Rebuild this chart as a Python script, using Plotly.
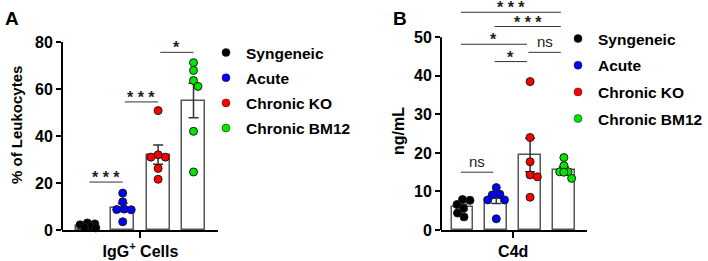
import plotly.graph_objects as go
import numpy as np

# ---------------- data ----------------
groups = ["Syngeneic", "Acute", "Chronic KO", "Chronic BM12"]
colors = ["#000000", "#0000ff", "#ff0000", "#00e600"]

igg_syngeneic = [3.0, 2.6, 2.2, 1.6, 1.2, 0.9]
igg_acute = [15.7, 12.0, 8.9, 8.6, 8.7, 3.5]
igg_chronic_ko = [50.8, 32.0, 31.0, 31.0, 26.2, 21.6]
igg_chronic_bm12 = [71.2, 67.9, 63.6, 61.1, 42.0, 24.7]

c4d_syngeneic = [7.9, 7.7, 6.6, 5.6, 4.4, 3.4]
c4d_acute = [11.0, 9.3, 9.1, 7.8, 7.8, 2.9]
c4d_chronic_ko = [38.5, 24.0, 17.7, 14.3, 13.8, 8.5]
c4d_chronic_bm12 = [18.8, 16.7, 15.1, 15.1, 15.0, 13.4]

igg_ticks = [0, 20, 40, 60, 80]
c4d_ticks = [0, 10, 20, 30, 40, 50]

# (group i, group j, label, bracket height)
igg_sig = [(0, 1, "***", 20.4), (1, 2, "***", 54.5), (2, 3, "*", 75.6)]
c4d_sig = [(0, 1, "ns", 15.0), (1, 2, "*", 43.7), (0, 2, "*", 48.2),
           (2, 3, "ns", 46.1), (1, 3, "***", 52.8), (0, 3, "***", 56.5)]

# ---------------- layout geometry ----------------
W, H = 708, 261
FONT = "Liberation Sans, Arial, sans-serif"


def fx(p):
    return p / W


def fy(p):
    return 1 - p / H


panels = [
    dict(key="", data=[igg_syngeneic, igg_acute, igg_chronic_ko, igg_chronic_bm12],
         ticks=igg_ticks, ymax_axis=80, xlabel="IgG<sup>+</sup> Cells",
         left=62, right=218, bottom=230, top_val_px=42, xr=[-0.715, 3.692],
         sig=igg_sig, trim=(0.06, 0.0), legend="legend"),
    dict(key="2", data=[c4d_syngeneic, c4d_acute, c4d_chronic_ko, c4d_chronic_bm12],
         ticks=c4d_ticks, ymax_axis=50, xlabel="C4d",
         left=441, right=586.8, bottom=230, top_val_px=37.3, xr=[-0.636, 3.678],
         sig=c4d_sig, trim=(-0.05, -0.09), legend="legend2"),
]

fig = go.Figure()
shapes = []
annotations = []
DOT = 7.4     # collision diameter (px) for the swarm layout
SPREAD = 8.5  # max horizontal offset (px) of a dot from its bar centre


def swarm(vals, ppu_x, ppu_y):
    placed = []
    offs = [0.0] * len(vals)
    order = sorted(range(len(vals)), key=lambda k: -vals[k])
    cands = [0.0]
    for st in np.arange(0.25, SPREAD + 0.01, 0.25):
        cands += [st, -st]
    for k in order:
        yk = vals[k] * ppu_y
        best, best_d = None, -1
        for s in cands:
            d = min([np.hypot(s - ox, yk - oy) for ox, oy in placed] or [99])
            if d >= DOT:
                best = s
                break
            if d > best_d:
                best_d, best_fallback = d, s
        if best is None:
            best = best_fallback
        placed.append((best, yk))
        offs[k] = best / ppu_x
    return offs


layout_axes = {}
for p in panels:
    k = p["key"]
    xa, ya = "x" + k, "y" + k
    ppu_y = (p["bottom"] - p["top_val_px"]) / p["ymax_axis"]
    yrange_top = p["bottom"] / ppu_y
    ppu_x = (p["right"] - p["left"]) / (p["xr"][1] - p["xr"][0])
    xpos = list(range(len(groups)))
    means = [float(np.mean(v)) for v in p["data"]]
    sems = [float(np.std(v, ddof=1) / np.sqrt(len(v))) for v in p["data"]]

    fig.add_trace(go.Bar(
        x=xpos, y=means, width=0.65, xaxis=xa, yaxis=ya,
        marker=dict(color="white", line=dict(color="#555555", width=1.5)),
        error_y=dict(type="data", array=sems, color="#333333", thickness=1.5, width=5),
        showlegend=False, hoverinfo="skip"))

    for gi, vals in enumerate(p["data"]):
        offs = swarm(vals, ppu_x, ppu_y)
        fig.add_trace(go.Scatter(
            x=[gi + o for o in offs], y=vals, mode="markers", xaxis=xa, yaxis=ya,
            marker=dict(size=8, color=colors[gi], line=dict(color="#1a1a1a", width=1)),
            cliponaxis=False, showlegend=False))

    for gi, g in enumerate(groups):
        fig.add_trace(go.Scatter(
            x=[None], y=[None], mode="markers", xaxis=xa, yaxis=ya, name=g,
            marker=dict(size=8, color=colors[gi], line=dict(color="#1a1a1a", width=0.5)),
            legend=p["legend"], legendgroup=p["legend"] + g))

    layout_axes["xaxis" + k] = dict(
        domain=[fx(p["left"]), fx(p["right"])], range=p["xr"], anchor=ya,
        showline=True, linewidth=2, linecolor="black", showgrid=False, zeroline=False,
        tickvals=[1.5], ticktext=[p["xlabel"]], ticks="outside", ticklen=6, tickwidth=2,
        tickcolor="black", automargin=False,
        tickfont=dict(family=FONT, size=16, color="black", weight="bold"))
    layout_axes["yaxis" + k] = dict(
        domain=[fy(p["bottom"]), 1.0], range=[0, yrange_top], anchor=xa,
        showline=False, showgrid=False, zeroline=False, automargin=False,
        tickvals=p["ticks"], ticks="outside", ticklen=5, tickwidth=2, tickcolor="black",
        tickfont=dict(family=FONT, size=16, color="black", weight="bold"))

    shapes.append(dict(type="line", xref=xa + " domain", yref=ya, x0=0, x1=0,
                       y0=0, y1=p["ymax_axis"], line=dict(color="black", width=2)))

    for (i, j, lab, yv) in p["sig"]:
        x0, x1 = i + p["trim"][0], j + p["trim"][1]
        shapes.append(dict(type="line", xref=xa, yref=ya, x0=x0, x1=x1, y0=yv, y1=yv,
                           line=dict(color="#333333", width=1)))
        star = lab != "ns"
        annotations.append(dict(
            x=(x0 + x1) / 2, y=yv, xref=xa, yref=ya, showarrow=False,
            text=" ".join(lab) if star else lab, yanchor="bottom",
            yshift=-6 if star else 0,
            font=dict(family=FONT, size=16 if star else 15, color="#222222",
                      weight="bold" if star else "normal")))

# panel letters and y titles
annotations += [
    dict(text="A", x=fx(3), y=fy(6), xref="paper", yref="paper", xanchor="left", yanchor="top",
         showarrow=False, font=dict(family=FONT, size=19, color="black", weight="bold")),
    dict(text="B", x=fx(391), y=fy(6), xref="paper", yref="paper", xanchor="left", yanchor="top",
         showarrow=False, font=dict(family=FONT, size=19, color="black", weight="bold")),
    dict(text="% of Leukocytes", x=fx(16), y=fy(125), xref="paper", yref="paper",
         xanchor="center", yanchor="middle", textangle=-90, showarrow=False,
         font=dict(family=FONT, size=15, color="black", weight="bold")),
    dict(text="ng/mL", x=fx(398), y=fy(131), xref="paper", yref="paper",
         xanchor="center", yanchor="middle", textangle=-90, showarrow=False,
         font=dict(family=FONT, size=16, color="black", weight="bold")),
]

legend_font = dict(family=FONT, size=15.5, color="black", weight="bold")
fig.update_layout(
    width=W, height=H, margin=dict(l=0, r=0, t=0, b=0, autoexpand=False),
    paper_bgcolor="white", plot_bgcolor="white",
    bargap=0, shapes=shapes, annotations=annotations,
    legend=dict(x=fx(206), y=fy(36), xanchor="left", yanchor="top", font=legend_font,
                tracegroupgap=2, bgcolor="rgba(0,0,0,0)", itemwidth=30),
    legend2=dict(x=fx(558), y=fy(22), xanchor="left", yanchor="top", font=legend_font,
                 tracegroupgap=3.5, bgcolor="rgba(0,0,0,0)", itemwidth=30),
    **layout_axes,
)

fig.write_html("out.html", config={"displayModeBar": False},
               post_script="document.body.style.margin='0';")
